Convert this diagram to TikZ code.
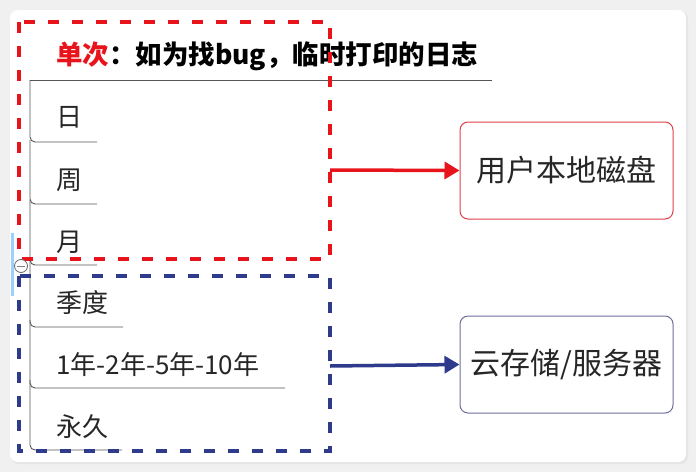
\documentclass[tikz,border=0pt]{standalone}
\usepackage{fontspec}
\newfontfamily\cjk{Noto Sans CJK SC}
\usetikzlibrary{arrows.meta}
\definecolor{dred}{HTML}{E8141B}
\definecolor{dblue}{HTML}{2E3A8C}
\definecolor{bred}{HTML}{E0404A}
\definecolor{bblue}{HTML}{6E6E9E}
\definecolor{treeline}{HTML}{555555}
\tikzset{
  px/.style={x=1pt,y=-1pt},
  redbox/.style={draw=dred,line width=4pt,dash pattern=on 11pt off 13pt},
  bluebox/.style={draw=dblue,line width=4pt,dash pattern=on 11pt off 13pt},
  item/.style={anchor=west,inner sep=0pt,font=\cjk\fontsize{26}{26}\selectfont,text=black!85},
  branch/.style={draw=treeline,line width=0.9pt,rounded corners=5pt},
  target/.style={draw,rounded corners=8pt,line width=1pt,minimum width=213pt,minimum height=97pt,inner sep=0pt,font=\cjk\fontsize{30}{30}\selectfont,text=black!85},
  conn/.style={line width=3.5pt,-{Triangle[length=15pt,width=17pt]}}
}
\begin{document}
\begin{tikzpicture}[px]
\useasboundingbox (0,0) rectangle (696,472);
\fill[black!6] (0,0) rectangle (696,472);
\fill[black!10,rounded corners=8pt] (11,11) rectangle (688,464);
\fill[white,rounded corners=8pt] (10,10) rectangle (686,462);
\draw[line width=3pt,draw=blue!45!cyan!40] (12,233) -- (12,296);
% title
\node[anchor=west,inner sep=0pt,font=\cjk\bfseries\fontsize{26.5}{26.5}\selectfont] (title) at (56,56) {\textcolor{dred}{单次}：如为找bug，临时打印的日志};
\coordinate (top) at (30,80);
\draw[treeline,line width=0.9pt] (top) -- (492,80);
% tree items
\node[item] (d) at (56,117) {日};
\node[item] (w) at (56,180) {周};
\node[item] (m) at (56,242) {月};
\node[item] (q) at (56,303) {季度};
\node[item] (y) at (56,365) {1年-2年-5年-10年};
\node[item] (f) at (56,427) {永久};
\coordinate (l1) at (97,142);
\coordinate (l2) at (97,204);
\coordinate (l3) at (97,265);
\coordinate (l4) at (123,327);
\coordinate (l5) at (285,388);
\coordinate (l6) at (122,450);
\draw[branch] (top) -- (30,142) -- (l1);
\draw[branch] (30,140) -- (30,204) -- (l2);
\draw[branch] (30,200) -- (30,265) -- (l3);
\draw[branch] (30,260) -- (30,327) -- (l4);
\draw[branch] (30,320) -- (30,388) -- (l5);
\draw[branch] (30,380) -- (30,450) -- (l6);
% dashed groups
\draw[redbox] (19,22) rectangle (330,259);
\draw[bluebox] (19,276) rectangle (330,451);
\coordinate (rA) at (330,170);
\coordinate (bA) at (330,366);
% collapse marker
\node[circle,draw=black!60,fill=white,line width=0.8pt,minimum size=13pt,inner sep=0pt] (col) at (21,266) {};
\draw[black!50,line width=1pt] ([xshift=-4pt]col.center) -- ([xshift=4pt]col.center);
% targets
\node[target,draw=bred] (disk) at (566.5,170.5) {用户本地磁盘};
\node[target,draw=bblue] (cloud) at (566.5,364.5) {云存储/服务器};
\draw[conn,dred] (rA) -- (disk.west);
\draw[conn,dblue] (bA) -- (cloud.west);
\end{tikzpicture}
\end{document}
